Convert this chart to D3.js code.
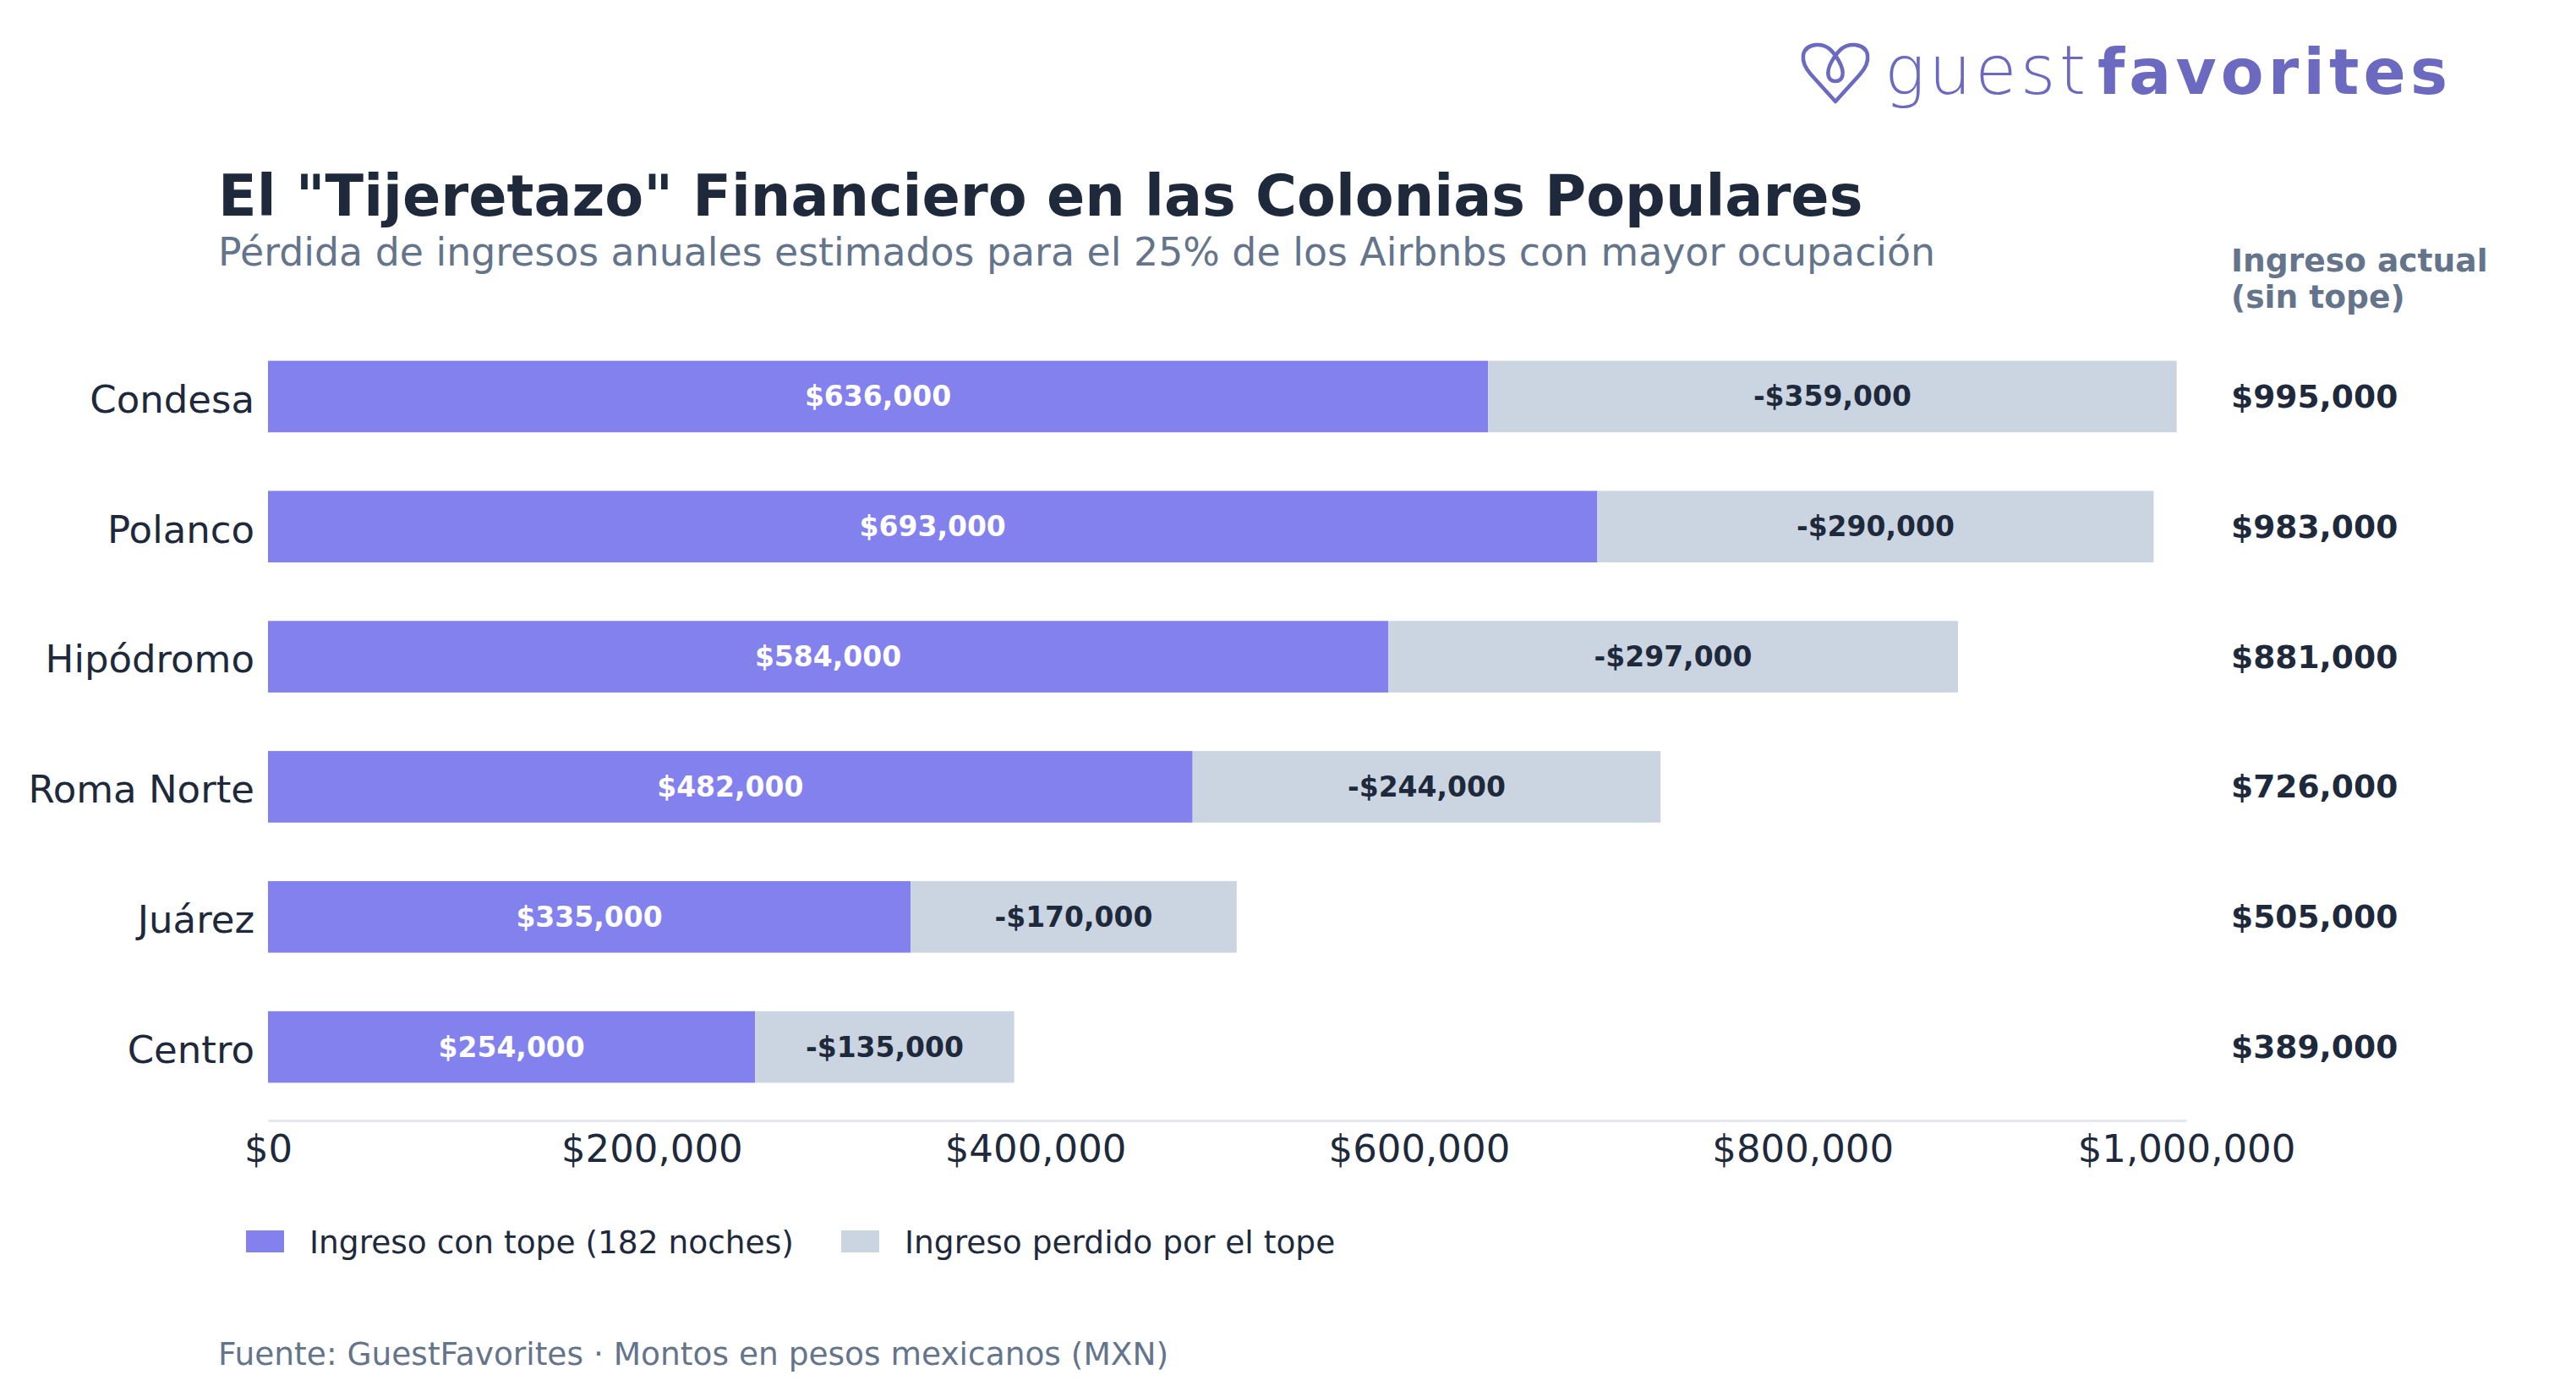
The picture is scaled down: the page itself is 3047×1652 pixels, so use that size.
<!DOCTYPE html>
<html>
<head>
<meta charset="utf-8">
<script src="https://cdn.jsdelivr.net/npm/d3@7"></script>
<style>
  html, body { margin: 0; padding: 0; background: #ffffff; }
  svg { display: block; font-family: "DejaVu Sans", sans-serif; }
</style>
</head>
<body>
<svg id="chart" width="3047" height="1652"></svg>
<script>
// ---- data ----
const colonias = ["Condesa", "Polanco", "Hipódromo", "Roma Norte", "Juárez", "Centro"];
const ingresoConTope = [636000, 693000, 584000, 482000, 335000, 254000];
const ingresoPerdido = [359000, 290000, 297000, 244000, 170000, 135000];
const ingresoActual = [995000, 983000, 881000, 726000, 505000, 389000];
const xTicks = [0, 200000, 400000, 600000, 800000, 1000000];
const seriesNames = ["Ingreso con tope (182 noches)", "Ingreso perdido por el tope"];
const titleText = 'El "Tijeretazo" Financiero en las Colonias Populares';
const subtitleText = "Pérdida de ingresos anuales estimados para el 25% de los Airbnbs con mayor ocupación";
const sourceText = "Fuente: GuestFavorites · Montos en pesos mexicanos (MXN)";
const headerLines = ["Ingreso actual", "(sin tope)"];

// ---- styles ----
const C_PURPLE = "#8381ee";
const C_GREY = "#cbd5e1";
const C_DARK = "#1e293b";
const C_SLATE = "#64748b";
const C_AXIS = "#e2e8f0";
const C_LOGO = "#6b69c0";

const svg = d3.select("#chart");
svg.append("rect").attr("width", 3047).attr("height", 1652).attr("fill", "#fff");

const fmt = d3.format("$,.0f");

const x = d3.scaleLinear().domain([0, 1000000]).range([317, 2586]);
const y = d3.scaleBand().domain(colonias).range([382, 1325]).paddingInner(0.45).paddingOuter(0.29);

const rows = colonias.map((c, i) => ({ c, capped: ingresoConTope[i], lost: ingresoPerdido[i], total: ingresoActual[i] }));

// bars
const g = svg.append("g");
g.selectAll("rect.cap").data(rows).join("rect")
  .attr("x", x(0)).attr("y", d => y(d.c))
  .attr("width", d => x(d.capped) - x(0)).attr("height", y.bandwidth())
  .attr("fill", C_PURPLE);
g.selectAll("rect.lost").data(rows).join("rect")
  .attr("x", d => x(d.capped)).attr("y", d => y(d.c))
  .attr("width", d => x(d.capped + d.lost) - x(d.capped)).attr("height", y.bandwidth())
  .attr("fill", C_GREY);

// bar labels
g.selectAll("text.cap").data(rows).join("text")
  .attr("x", d => (x(0) + x(d.capped)) / 2).attr("y", d => y(d.c) + y.bandwidth() / 2)
  .attr("text-anchor", "middle").attr("dominant-baseline", "central")
  .attr("font-size", 33).attr("font-weight", "bold").attr("fill", "#fff")
  .text(d => fmt(d.capped));
g.selectAll("text.lost").data(rows).join("text")
  .attr("x", d => (x(d.capped) + x(d.capped + d.lost)) / 2).attr("y", d => y(d.c) + y.bandwidth() / 2)
  .attr("text-anchor", "middle").attr("dominant-baseline", "central")
  .attr("font-size", 33).attr("font-weight", "bold").attr("fill", C_DARK)
  .text(d => "-" + fmt(d.lost));

// right column totals
g.selectAll("text.total").data(rows).join("text")
  .attr("x", 2639).attr("y", d => y(d.c) + y.bandwidth() / 2)
  .attr("dominant-baseline", "central")
  .attr("font-size", 37.6).attr("font-weight", "bold").attr("fill", C_DARK)
  .text(d => fmt(d.total));
svg.append("text").attr("x", 2639).attr("y", 321)
  .attr("font-size", 37.6).attr("font-weight", "bold").attr("fill", C_SLATE)
  .selectAll("tspan").data(headerLines).join("tspan")
  .attr("x", 2639).attr("dy", (d, i) => i === 0 ? 0 : 43).text(d => d);

// x axis
const xAxis = svg.append("g").attr("transform", "translate(0,1325)")
  .call(d3.axisBottom(x).tickValues(xTicks).tickFormat(fmt).tickSize(0).tickPadding(17));
xAxis.select(".domain").attr("stroke", C_AXIS).attr("stroke-width", 3);
xAxis.selectAll("text").attr("font-size", 45).attr("fill", C_DARK).attr("font-family", "DejaVu Sans");

// y axis
const yAxis = svg.append("g").attr("transform", "translate(317,0)")
  .call(d3.axisLeft(y).tickSize(0).tickPadding(16));
yAxis.select(".domain").remove();
yAxis.selectAll("text").attr("font-size", 45).attr("fill", C_DARK).attr("font-family", "DejaVu Sans")
  .attr("dy", "0.42em");

// title & subtitle
svg.append("text").attr("x", 258).attr("y", 255)
  .attr("font-size", 66.8).attr("font-weight", "bold").attr("fill", C_DARK).text(titleText);
svg.append("text").attr("x", 258).attr("y", 314)
  .attr("font-size", 45.8).attr("fill", C_SLATE).text(subtitleText);

// legend
const legendX = [291, 995];
const legendColors = [C_PURPLE, C_GREY];
const lg = svg.append("g");
seriesNames.forEach((name, i) => {
  lg.append("rect").attr("x", legendX[i]).attr("y", 1455).attr("width", 45).attr("height", 26).attr("fill", legendColors[i]);
  lg.append("text").attr("x", legendX[i] + 75).attr("y", 1469).attr("dominant-baseline", "central")
    .attr("font-size", 37.5).attr("fill", C_DARK).text(name);
});

// source
svg.append("text").attr("x", 258).attr("y", 1614)
  .attr("font-size", 37.5).attr("fill", C_SLATE).text(sourceText);

// logo
const logo = svg.append("g");
logo.append("path")
  .attr("d", "M2171,120 L2142,88 C2128,72 2130,55 2148,53 C2161,52 2168,60 2175,72 C2183,86 2180,96 2171,96 C2162,96 2159,86 2167,72 C2174,60 2181,52 2194,53 C2212,55 2214,72 2200,88 Z")
  .attr("fill", "none").attr("stroke", C_LOGO).attr("stroke-width", 4.5).attr("stroke-linejoin", "round");
logo.append("text").attr("x", 2229).attr("y", 111)
  .attr("font-size", 80).attr("font-weight", 200).attr("fill", C_LOGO)
  .attr("textLength", 238).attr("lengthAdjust", "spacing").text("guest");
logo.append("text").attr("x", 2481).attr("y", 111)
  .attr("font-size", 74).attr("font-weight", "bold").attr("fill", C_LOGO)
  .attr("textLength", 414).attr("lengthAdjust", "spacing").text("favorites");
</script>
</body>
</html>
